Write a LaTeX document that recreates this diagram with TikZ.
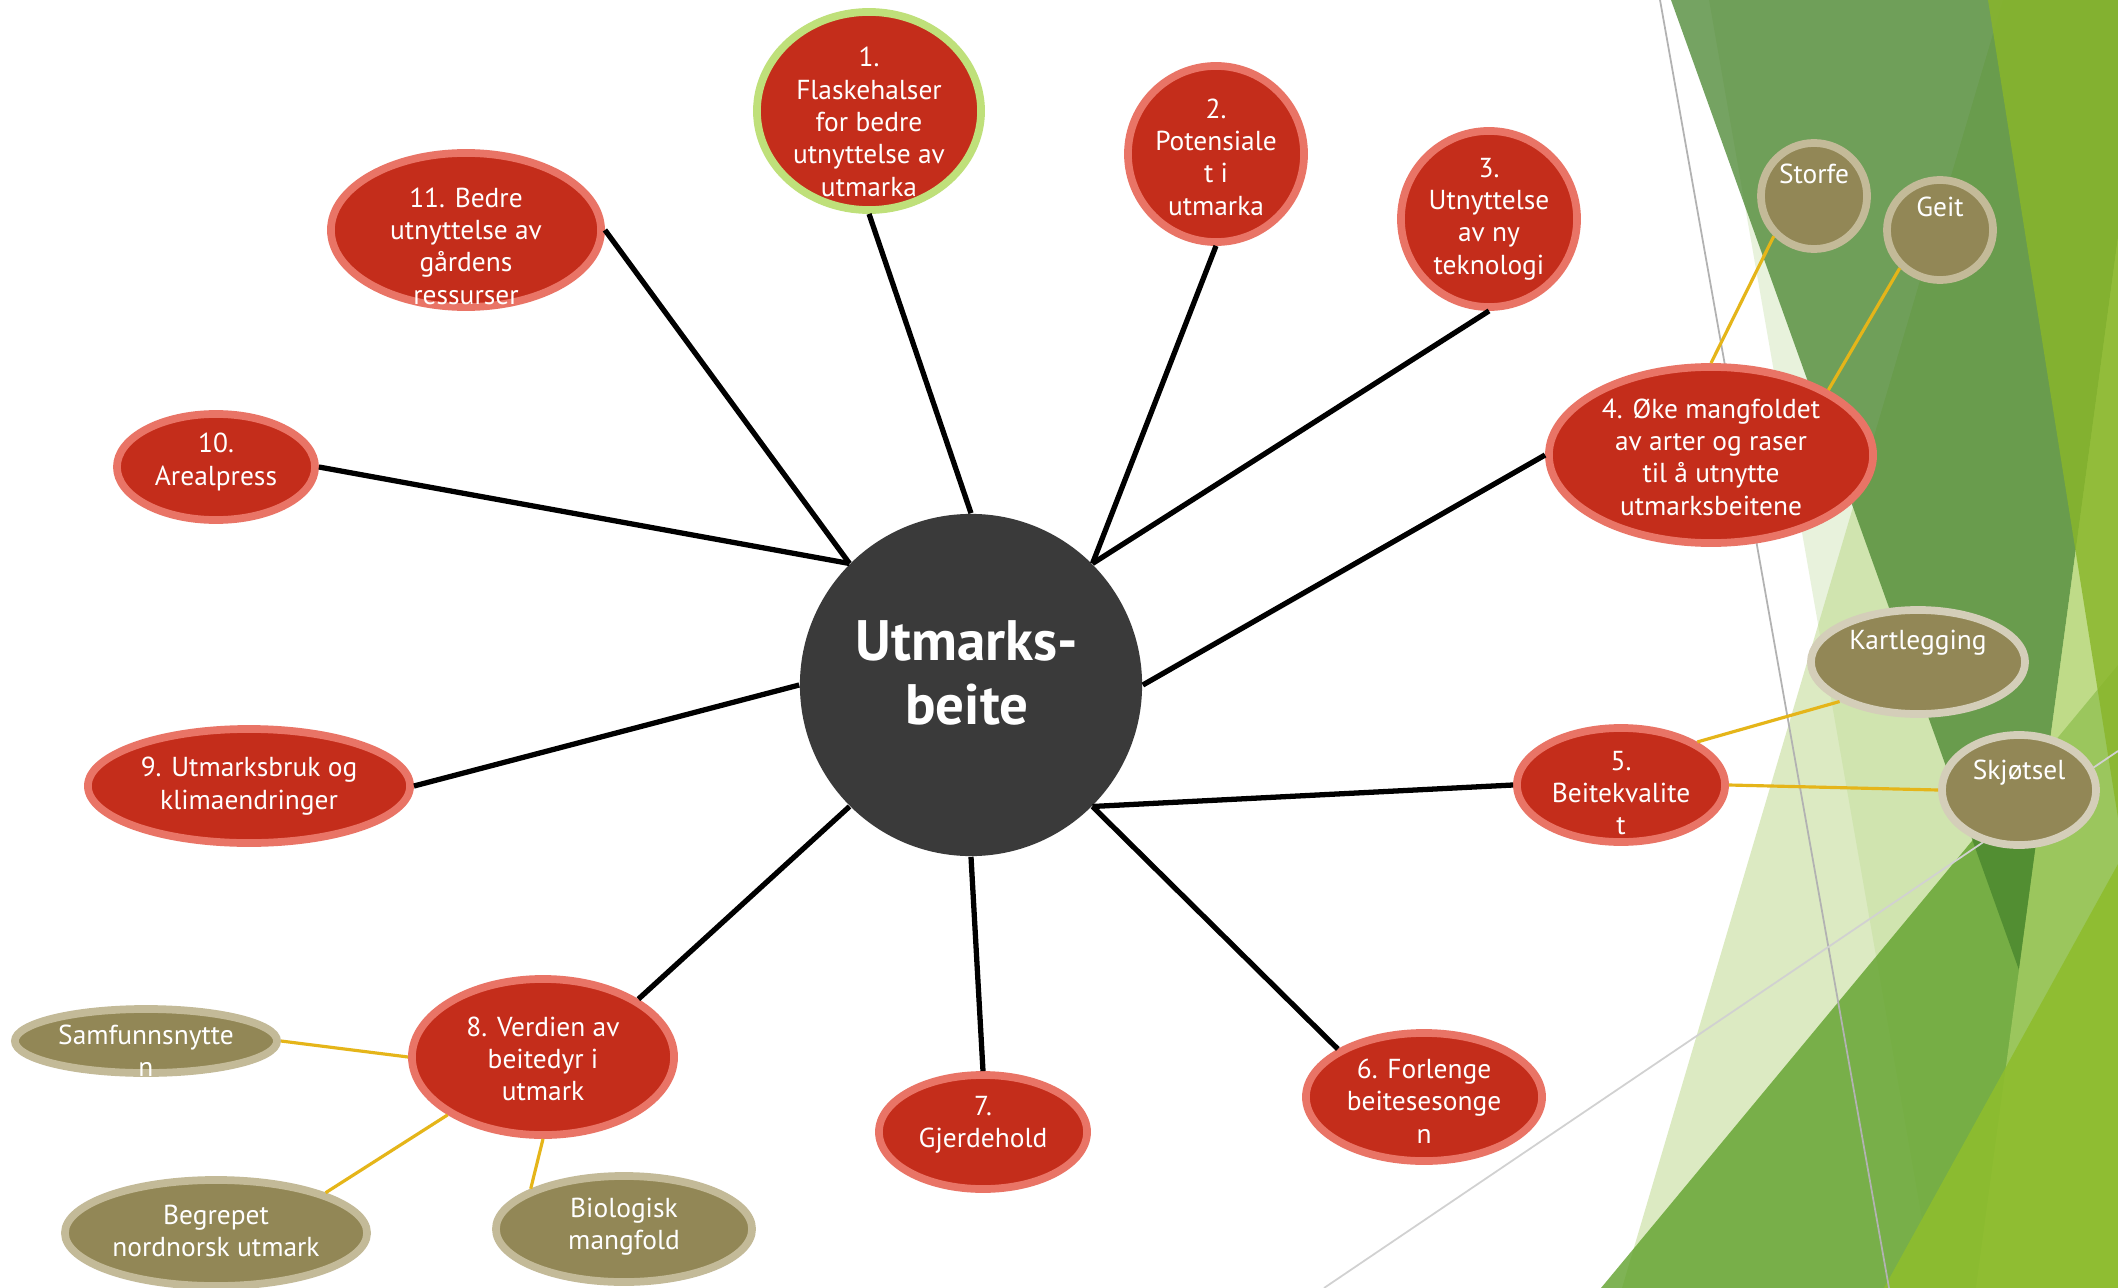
\documentclass[tikz,border=0pt]{standalone}
\usepackage{fontspec}
\setmainfont{PT Sans}
\usetikzlibrary{shapes.geometric}

\definecolor{bubred}{HTML}{C42D1B}
\definecolor{rimred}{HTML}{E97466}
\definecolor{rimlime}{HTML}{BFE07A}
\definecolor{olive}{HTML}{928756}
\definecolor{rimolive}{HTML}{C3BA98}
\definecolor{rimpale}{HTML}{D4CEB9}
\definecolor{hubgray}{HTML}{3A3A3A}
\definecolor{twigyellow}{HTML}{E5B519}
\definecolor{vlgreen}{HTML}{E8F2DC}
\definecolor{lgreen}{HTML}{B6D580}
\definecolor{ggreen}{HTML}{60A12B}
\definecolor{tgreen}{HTML}{46832C}
\definecolor{limeA}{HTML}{89B62A}
\definecolor{limeB}{HTML}{B4D66E}
\definecolor{limeC}{HTML}{8EBD2E}

\begin{document}
\begin{tikzpicture}[x=0.01cm, y=-0.01cm, font=\fontsize{7.8}{9.2}\selectfont,
	redbub/.style={ellipse, fill=bubred, draw=rimred, line width=2.2pt, inner sep=0pt},
	olivebub/.style={ellipse, fill=olive, draw=rimolive, line width=2.2pt, inner sep=0pt},
	lbl/.style={text=white, align=center, inner sep=0pt},
	spoke/.style={line width=1.5pt, black},
	twig/.style={line width=0.9pt, twigyellow}]
	\useasboundingbox (0,0) rectangle (2118,1288);
	\fill[white] (0,0) rectangle (2118,1288);

	% green facets on the right
	\begin{scope}
		\clip (0,0) rectangle (2118,1288);
		\fill[vlgreen] (1709,0) -- (2118,0) -- (2118,1288) -- (1934,1288) -- cycle;
		\fill[lgreen, opacity=0.48] (2003,0) -- (2118,0) -- (2118,1288) -- (1622,1288) -- cycle;
		\fill[ggreen, opacity=0.8] (1601,1288) -- (2118,665) -- (2118,1288) -- cycle;
		\fill[tgreen, opacity=0.74] (1671,0) -- (2150,0) -- (2019,970) -- cycle;
		\fill[limeB, opacity=0.6] (2150,0) -- (2250,0) -- (2250,1288) -- (1976,1288) -- cycle;
		\fill[limeA, opacity=0.82] (1988,0) -- (2118,0) -- (2118,818) -- cycle;
		\fill[limeC, opacity=0.9] (1884,1288) -- (2118,864) -- (2118,1288) -- cycle;
		\draw[line width=0.5pt, black!30] (1660,0) -- (1889,1288);
		\draw[line width=0.5pt, black!18] (1324,1288) -- (2118,751);
	\end{scope}

	\node[circle, fill=hubgray, minimum size=3.42cm, inner sep=0pt] (hub) at (971,685) {};
	\node[lbl, font=\bfseries\fontsize{16.2}{18.2}\selectfont] (thub) at (967,673) {Utmarks-\\beite};

	\node[redbub, draw=rimlime, minimum width=2.24cm, minimum height=1.98cm] (n1) at (869,111) {};
	\node[redbub, minimum width=1.76cm, minimum height=1.76cm] (n2) at (1216,154) {};
	\node[redbub, minimum width=1.76cm, minimum height=1.76cm] (n3) at (1489,219) {};
	\node[redbub, minimum width=3.24cm, minimum height=1.76cm] (n4) at (1711,455) {};
	\node[redbub, minimum width=2.08cm, minimum height=1.14cm] (n5) at (1621,785) {};
	\node[redbub, minimum width=2.36cm, minimum height=1.28cm] (n6) at (1424,1097) {};
	\node[redbub, minimum width=2.08cm, minimum height=1.14cm] (n7) at (983,1132) {};
	\node[redbub, minimum width=2.62cm, minimum height=1.56cm] (n8) at (543,1057) {};
	\node[redbub, minimum width=3.22cm, minimum height=1.14cm] (n9) at (249,786) {};
	\node[redbub, minimum width=1.98cm, minimum height=1.06cm] (n10) at (216,467) {};
	\node[redbub, minimum width=2.70cm, minimum height=1.54cm] (n11) at (466,230) {};

	\node[lbl] (t1) at (869,122) {1.\\Flaskehalser\\for bedre\\utnyttelse av\\utmarka};
	\node[lbl] (t2) at (1216,157) {2.\\Potensiale\\t i\\utmarka};
	\node[lbl] (t3) at (1489,219) {3.\\Utnyttelse\\av ny\\teknologi};
	\node[lbl] (t4) at (1711,457) {4. Øke mangfoldet\\av arter og raser\\til å utnytte\\utmarksbeitene};
	\node[lbl] (t5) at (1621,793) {5.\\Beitekvalite\\t};
	\node[lbl] (t6) at (1424,1101) {6. Forlenge\\beitesesonge\\n};
	\node[lbl] (t7) at (983,1125) {7.\\Gjerdehold};
	\node[lbl] (t8) at (543,1059) {8. Verdien av\\beitedyr i\\utmark};
	\node[lbl] (t9) at (249,786) {9. Utmarksbruk og\\klimaendringer};
	\node[lbl] (t10) at (216,462) {10.\\Arealpress};
	\node[lbl] (t11) at (466,246) {11. Bedre\\utnyttelse av\\gårdens\\ressurser};

	\node[olivebub, minimum width=1.06cm, minimum height=1.06cm] (storfe) at (1814,196) {};
	\node[olivebub, minimum width=1.06cm, minimum height=1.00cm] (geit) at (1940,230) {};
	\node[olivebub, draw=rimpale, minimum width=2.14cm, minimum height=1.04cm] (kart) at (1918,662) {};
	\node[olivebub, draw=rimpale, minimum width=1.54cm, minimum height=1.10cm] (skjot) at (2019,790) {};
	\node[olivebub, minimum width=2.62cm, minimum height=0.64cm] (samf) at (146,1041) {};
	\node[olivebub, minimum width=3.02cm, minimum height=1.06cm] (begr) at (216,1233) {};
	\node[olivebub, minimum width=2.56cm, minimum height=1.06cm] (biol) at (624,1229) {};

	\node[lbl] (tstorfe) at (1814,174) {Storfe};
	\node[lbl] (tgeit) at (1940,207) {Geit};
	\node[lbl] (tkart) at (1918,643) {Kartlegging};
	\node[lbl] (tskjot) at (2019,773) {Skjøtsel};
	\node[lbl] (tsamf) at (146,1051) {Samfunnsnytte\\n};
	\node[lbl] (tbegr) at (216,1231) {Begrepet\\nordnorsk utmark};
	\node[lbl] (tbiol) at (624,1227) {Biologisk\\mangfold};

	\path (hub.north) edge[spoke] (n1.south);
	\path (hub.north east) edge[spoke] (n2.south);
	\path (hub.north east) edge[spoke] (n3.south);
	\path (hub.east) edge[spoke] (n4.west);
	\path (hub.south east) edge[spoke] (n5.west);
	\path (hub.south east) edge[spoke] (n6.north west);
	\path (hub.south) edge[spoke] (n7.north);
	\path (hub.south west) edge[spoke] (n8.north east);
	\path (hub.west) edge[spoke] (n9.east);
	\path (hub.north west) edge[spoke] (n10.east);
	\path (hub.north west) edge[spoke] (n11.east);

	\path (storfe.south west) edge[twig] (n4.north);
	\path (geit.south west) edge[twig] (n4.north east);
	\path (kart.south west) edge[twig] (n5.north east);
	\path (skjot.west) edge[twig] (n5.east);
	\path (samf.east) edge[twig] (n8.west);
	\path (begr.north east) edge[twig] (n8.south west);
	\path (biol.north west) edge[twig] (n8.south);
\end{tikzpicture}
\end{document}
